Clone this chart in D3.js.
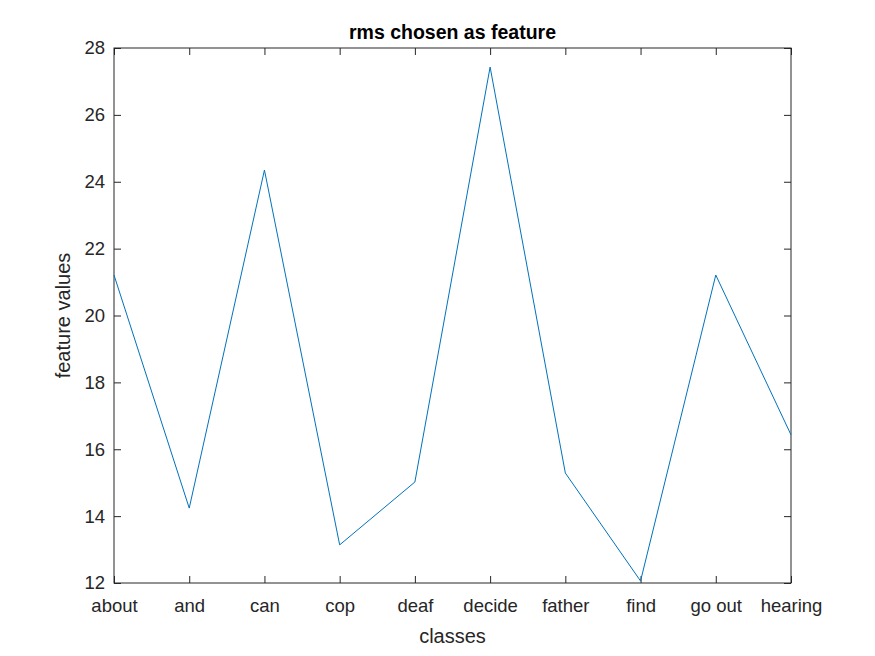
<!DOCTYPE html>
<html><head><meta charset="utf-8">
<script src="https://cdn.jsdelivr.net/npm/d3@7"></script>
<style>body{margin:0;background:#fff}svg{display:block}text{font-family:"Liberation Sans",Arial,sans-serif}</style>
</head><body><svg id="c" width="875" height="656"></svg>
<script>
const categories=["about","and","can","cop","deaf","decide","father","find","go out","hearing"];
const values=[21.21,14.24,24.35,13.14,15.02,27.43,15.29,12.06,21.21,16.43];
const yTicks=[12,14,16,18,20,22,24,26,28];
const svg=d3.select("#c");
const L=114,R=791,T=48,B=583;
const x=d3.scalePoint().domain(categories).range([L,R]);
const y=d3.scaleLinear().domain([12,28]).range([B,T]);
svg.append("rect").attr("width",875).attr("height",656).attr("fill","#fff");
const g=svg.append("g");
const xa=g.append("g").attr("transform",`translate(0,${B})`).call(d3.axisBottom(x).tickSizeInner(-7).tickSizeOuter(0).tickPadding(16));
const xt=g.append("g").attr("transform",`translate(0,${T})`).call(d3.axisTop(x).tickSizeInner(-7).tickSizeOuter(0).tickFormat(""));
const ya=g.append("g").attr("transform",`translate(${L},0)`).call(d3.axisLeft(y).tickValues(yTicks).tickSizeInner(-7).tickSizeOuter(0).tickPadding(9));
const yr=g.append("g").attr("transform",`translate(${R},0)`).call(d3.axisRight(y).tickValues(yTicks).tickSizeInner(-7).tickSizeOuter(0).tickFormat(""));
[xa,xt,ya,yr].forEach(a=>{a.select(".domain").remove();a.selectAll("line").attr("stroke","#262626");a.selectAll("text").attr("fill","#262626").style("font-size","18.5px");});
g.append("rect").attr("x",L).attr("y",T).attr("width",R-L).attr("height",B-T).attr("fill","none").attr("stroke","#262626").attr("stroke-width",1);
g.append("path").datum(values).attr("fill","none").attr("stroke","#0072BD").attr("stroke-width",1)
 .attr("d",d3.line().x((d,i)=>x(categories[i])).y(d=>y(d)));
svg.append("text").attr("x",(L+R)/2).attr("y",39).attr("text-anchor","middle").style("font-size","19.5px").style("font-weight","bold").attr("fill","#000").text("rms chosen as feature");
svg.append("text").attr("x",(L+R)/2).attr("y",643).attr("text-anchor","middle").style("font-size","20px").attr("fill","#262626").text("classes");
svg.append("text").attr("transform",`translate(70,${(T+B)/2}) rotate(-90)`).attr("text-anchor","middle").style("font-size","20px").attr("fill","#262626").text("feature values");
</script></body></html>
